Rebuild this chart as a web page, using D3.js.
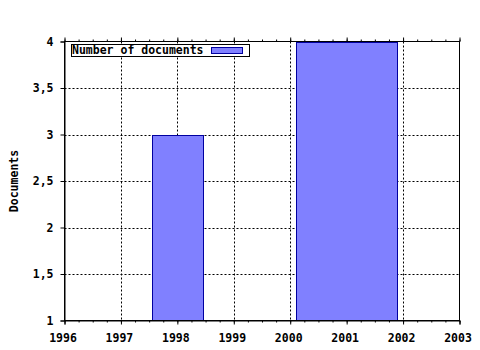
<!DOCTYPE html>
<html><head><meta charset="utf-8">
<script src="https://cdn.jsdelivr.net/npm/d3@7"></script>
<style>body{margin:0;background:#fff}svg{display:block}</style>
</head><body>
<svg id="c" width="480" height="350"></svg>
<script>
const barStarts = [1997.55, 2000.1];
const barEnds = [1998.45, 2001.9];
const docCounts = [3, 4];
const xTickYears = [1996, 1997, 1998, 1999, 2000, 2001, 2002, 2003];
const yTickValues = [1, 1.5, 2, 2.5, 3, 3.5, 4];
const yTickLabels = ["1", "1,5", "2", "2,5", "3", "3,5", "4"];
const seriesName = "Number of documents";
const yTitle = "Documents";

const svg = d3.select("#c");
const L = 64.5, R = 459.5, T = 41.5, B = 320.5;
const x = d3.scaleLinear().domain([1996, 2003]).range([L, R]);
const y = d3.scaleLinear().domain([1, 4]).range([B, T]);
const font = "'DejaVu Sans Mono', monospace";

// grid
const g = svg.append("g");
g.selectAll(".vg").data(xTickYears.slice(1, -1)).join("line")
  .attr("x1", d => Math.round(x(d)) + 0.5).attr("x2", d => Math.round(x(d)) + 0.5)
  .attr("y1", T).attr("y2", B)
  .attr("stroke", "#000").attr("stroke-dasharray", "2,2");
g.selectAll(".hg").data(yTickValues.slice(1, -1)).join("line")
  .attr("y1", d => Math.round(y(d)) + 0.5).attr("y2", d => Math.round(y(d)) + 0.5)
  .attr("x1", L).attr("x2", R)
  .attr("stroke", "#000").attr("stroke-dasharray", "2,2");

// bars
svg.selectAll(".bar").data(docCounts).join("rect")
  .attr("x", (d, i) => Math.round(x(barStarts[i])) + 0.5)
  .attr("width", (d, i) => Math.round(x(barEnds[i])) - Math.round(x(barStarts[i])))
  .attr("y", d => Math.round(y(d)) + 0.5)
  .attr("height", d => y(1) - Math.round(y(d)) - 0.5)
  .attr("fill", "#8080ff").attr("stroke", "#0000a0").attr("stroke-width", 1);

// frame
svg.append("rect").attr("x", L).attr("y", T).attr("width", R - L).attr("height", B - T)
  .attr("fill", "none").attr("stroke", "#000");

// axes
const minorTicks = d3.range(1996, 2003.001, 0.25);
const xb = d3.axisBottom(x).tickValues(xTickYears).tickFormat(d3.format("d")).tickSize(4).tickPadding(9);
const xbAxis = svg.append("g").attr("transform", `translate(0,${B})`).call(xb);
svg.append("g").attr("transform", `translate(0,${B})`)
  .call(d3.axisBottom(x).tickValues(minorTicks).tickSize(2).tickFormat(""))
  .call(a => a.select(".domain").remove());
svg.append("g").attr("transform", `translate(0,${T})`)
  .call(d3.axisTop(x).tickValues(xTickYears).tickSize(4).tickFormat(""))
  .call(a => a.select(".domain").remove());
svg.append("g").attr("transform", `translate(0,${T})`)
  .call(d3.axisTop(x).tickValues(minorTicks).tickSize(2).tickFormat(""))
  .call(a => a.select(".domain").remove());
const ya = d3.axisLeft(y).tickValues(yTickValues).tickFormat((d, i) => yTickLabels[i]).tickSize(4).tickPadding(7);
svg.append("g").attr("transform", `translate(${L},0)`).call(ya);

svg.selectAll(".tick text").attr("font-family", font).attr("font-weight", "bold")
  .attr("font-size", 11.5).attr("fill", "#000");
xbAxis.selectAll(".tick text").attr("dx", -2);
svg.selectAll(".domain").attr("stroke", "#000");

// y title
svg.append("text").attr("transform", "translate(18,181) rotate(-90)")
  .attr("text-anchor", "middle").attr("font-family", font).attr("font-weight", "bold")
  .attr("font-size", 11.5).text(yTitle);

// legend
svg.append("rect").attr("x", 71.5).attr("y", 44.5).attr("width", 178).attr("height", 12)
  .attr("fill", "#fff").attr("stroke", "#000");
svg.append("text").attr("x", 72).attr("y", 54).attr("font-family", font).attr("font-weight", "bold")
  .attr("font-size", 11.5).text(seriesName);
svg.append("rect").attr("x", 211.5).attr("y", 47.5).attr("width", 31).attr("height", 6)
  .attr("fill", "#8080ff").attr("stroke", "#0000a0");
</script>
</body></html>
